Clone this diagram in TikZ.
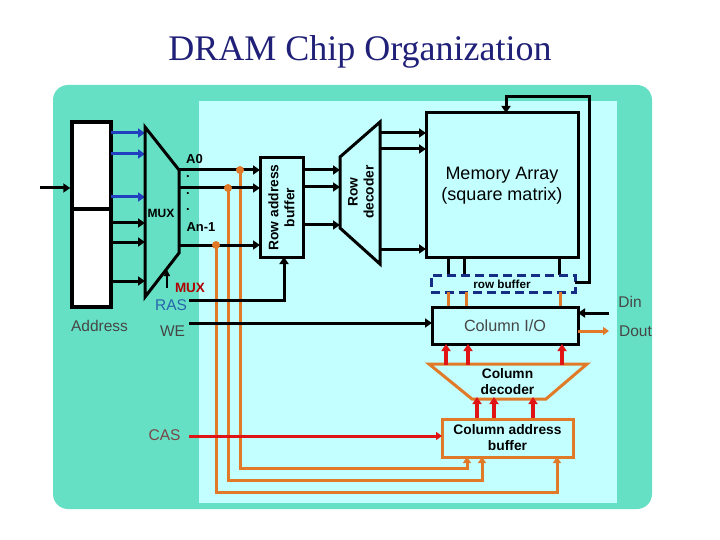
\documentclass[tikz,border=0pt]{standalone}
\usepackage{fontspec}
\setmainfont{Liberation Sans}
\newfontfamily\titlefont{Liberation Serif}
\usetikzlibrary{positioning}
\usetikzlibrary{arrows.meta}
\definecolor{chipgreen}{RGB}{102,224,196}
\definecolor{chipcyan}{RGB}{196,255,255}
\definecolor{wireorange}{RGB}{224,122,40}
\definecolor{wirered}{RGB}{224,20,20}
\definecolor{wireblue}{RGB}{32,64,192}
\definecolor{titleblue}{RGB}{32,32,120}
\definecolor{rasblue}{RGB}{40,100,170}
\definecolor{casgray}{RGB}{120,70,70}
\definecolor{labelgray}{RGB}{70,70,70}
\tikzset{
  blackbox/.style={draw=black,line width=3pt,fill=chipcyan},
  wire/.style={draw=black,line width=3pt},
  arrowwire/.style={wire,-{Triangle[length=7pt,width=9pt]}},
  bluewire/.style={arrowwire,draw=wireblue},
  orangewire/.style={draw=wireorange,line width=3pt},
  orangearrow/.style={orangewire,-{Triangle[length=6pt,width=8pt]}},
  redarrow/.style={draw=wirered,line width=3.2pt,-{Triangle[length=7pt,width=9pt]}},
  joint/.style={circle,fill=wireorange,inner sep=0pt,minimum size=8pt},
  label/.style={inner sep=0pt,font=\fontsize{15.5}{17}\selectfont,text=labelgray},
  boldlabel/.style={inner sep=0pt,align=center,font=\fontsize{13.8}{16}\selectfont\bfseries},
  addrlabel/.style={inner sep=0pt,font=\fontsize{13}{15}\selectfont\bfseries},
}
\begin{document}
\begin{tikzpicture}[x=1pt,y=-1pt]
\useasboundingbox (0,0) rectangle (720,540);
\fill[white] (0,0) rectangle (720,540);
\node[inner sep=0pt,text=titleblue,font=\titlefont\fontsize{36}{40}\selectfont](title) at (360,52){DRAM Chip Organization};
% background
\fill[chipgreen,rounded corners=15pt] (53,85) rectangle (652,509);
\fill[chipcyan] (199,101) rectangle (617,503);

% address register and mux
\node[draw=black,line width=3.5pt,fill=white,minimum width=39pt,minimum height=87pt,inner sep=0pt](regtop) at (91.5,165.5){};
\node[draw=black,line width=3.5pt,fill=white,minimum width=39pt,minimum height=98pt,inner sep=0pt](regbot) at (91.5,258){};
\coordinate (infree) at (40,188);
\draw[arrowwire] (infree) -- (regtop.west |- infree);
\foreach \y in {133,154,197}{
  \draw[bluewire] (111,\y) -- (145,\y);
}
\foreach \y in {223,242,281}{
  \draw[arrowwire] (111,\y) -- (145,\y);
}
\draw[line width=3pt,line join=miter] (145,127) -- (179,170) -- (179,253) -- (145,297) -- cycle;
\node[inner sep=0pt,font=\fontsize{12}{14}\selectfont\bfseries](muxtext) at (161,213){MUX};
\draw[-{Triangle[length=6pt,width=6pt]},line width=1.4pt] (167,288) -- (167,270);
\node[inner sep=0pt,text=red!70!black,font=\fontsize{13.5}{15}\selectfont\bfseries](muxsel) at (190,288){MUX};

% row address lines
\node[addrlabel] (a0) at (194.5,159){A0};
\node[addrlabel] (d1) at (188,177){.};
\node[addrlabel] (d2) at (188,194){.};
\node[addrlabel] (d3) at (188,210){.};
\node[addrlabel] (an) at (201,227){An-1};

% orange wires go under the black ones
\draw[orangearrow] (240,170) -- (240,468) -- (467,468) -- (467,457);
\draw[orangearrow] (228,188) -- (228,480) -- (482,480) -- (482,457);
\draw[orangearrow] (216,245) -- (216,492) -- (557,492) -- (557,457);

\draw[arrowwire] (179,170) -- (260,170);
\draw[arrowwire] (179,188) -- (260,188);
\draw[arrowwire] (179,245) -- (260,245);
\node[joint](j1) at (240,170){};
\node[joint](j2) at (228,188){};
\node[joint](j3) at (216,245){};

\node[blackbox,minimum width=43pt,minimum height=99pt,inner sep=0pt,align=center](rowbuf) at (281.5,207.5){};
\node[boldlabel,rotate=90](rowbuftext) at (281.5,207.5){Row address\\buffer};

% row decoder
\foreach \y in {170,187,225}{
  \draw[arrowwire] (303,\y) -- (340,\y);
}
\draw[line width=3pt,fill=chipcyan] (340,157) -- (380,122) -- (380,264) -- (340,228) -- cycle;
\node[boldlabel,rotate=90](dectext) at (361,192){Row\\decoder};
\foreach \y in {133,149,249}{
  \draw[arrowwire] (380,\y) -- (426,\y);
}

% memory
\node[blackbox,minimum width=152pt,minimum height=144pt,inner sep=0pt](mem) at (502,185){};
\node[inner sep=0pt,align=center,font=\fontsize{18}{21}\selectfont](memtext) at (502,185.5){Memory Array\\(square matrix)};
\foreach \x in {448,464,559}{
  \draw[wire] (\x,257) -- (\x,275);
}
\node[draw=wireblue!70!black,dash pattern=on 9pt off 5pt,line width=3pt,minimum width=144pt,minimum height=17pt,inner sep=0pt](rowb) at (503,283.5){};
\node[inner sep=0pt,font=\fontsize{11.7}{13}\selectfont\bfseries](rowbtext) at (502,284){row buffer};
\draw[wire,-{Triangle[length=7pt,width=9pt]}] (575,282) -- (589,282) -- (589,97) -- (506,97) -- (506,113);
\foreach \x in {448,466,560}{
  \draw[orangewire] (\x,292) -- (\x,307);
}

% column io
\node[blackbox,minimum width=146pt,minimum height=37pt,inner sep=0pt](colio) at (505,325.5){};
\node[inner sep=0pt,text=labelgray,font=\fontsize{16.2}{18}\selectfont](coliotext) at (505,326){Column I/O};
\draw[arrowwire] (609,313) -- (578,313);
\draw[orangearrow] (578,331) -- (609,331);
\node[label](din) at (630,302){Din};
\node[label](dout) at (635.5,331){Dout};

% signals
\node[label,text=rasblue](ras) at (171,305){RAS};
\node[label](we) at (172.5,331){WE};
\node[label](addr) at (99.5,326){Address};
\node[label,text=casgray](cas) at (164.5,435){CAS};
\draw[wire,-{Triangle[length=7pt,width=9pt]}] (189,300) -- (284,300) -- (284,257);
\draw[arrowwire] (189,323) -- (432,323);

% column decoder
\draw[orangewire,line join=miter] (429,364) -- (587,364) -- (546,399) -- (472,399) -- cycle;
\node[boldlabel](cdtext) at (507.5,382){Column\\decoder};
\foreach \x in {446,468,562}{
  \draw[redarrow] (\x,365) -- (\x,344);
}
\foreach \x in {477,494,533}{
  \draw[redarrow] (\x,419) -- (\x,397);
}

% column address buffer
\node[draw=wireorange,line width=3pt,fill=chipcyan,minimum width=131pt,minimum height=38pt,inner sep=0pt](cab) at (507.5,438){};
\node[boldlabel](cabtext) at (507.5,438){Column address\\buffer};
\draw[draw=wirered,line width=3pt,-{Triangle[length=6pt,width=8pt]}] (189,436) -- (442,436);
\end{tikzpicture}
\end{document}
